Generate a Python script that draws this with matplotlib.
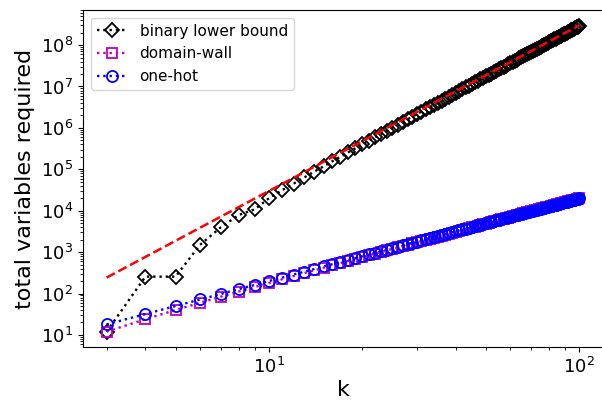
import matplotlib
matplotlib.use("Agg")
import matplotlib.pyplot as plt

k = list(range(3, 101))

binary_lower_bound = [
    12, 256, 256, 1500, 4000, 7900, 10800, 20000, 31000, 44900,
    63700, 87800, 118000, 156000, 201000, 257000, 322000, 400000, 491000, 596000,
    718000, 857000, 1.02e6, 1.20e6, 1.40e6, 1.62e6, 1.88e6, 2.16e6, 2.47e6, 2.82e6,
    3.20e6, 3.62e6, 4.07e6, 4.57e6, 5.12e6, 5.71e6, 6.35e6, 7.04e6, 7.79e6, 8.59e6,
    9.46e6, 1.04e7, 1.14e7, 1.25e7, 1.36e7, 1.48e7, 1.61e7, 1.75e7, 1.90e7, 2.05e7,
    2.22e7, 2.39e7, 2.58e7, 2.77e7, 2.98e7, 3.20e7, 3.43e7, 3.67e7, 3.93e7, 4.19e7,
    4.48e7, 4.77e7, 5.08e7, 5.40e7, 5.74e7, 6.10e7, 6.47e7, 6.86e7, 7.27e7, 7.69e7,
    8.13e7, 8.59e7, 9.07e7, 9.57e7, 1.01e8, 1.06e8, 1.12e8, 1.18e8, 1.24e8, 1.30e8,
    1.37e8, 1.43e8, 1.50e8, 1.58e8, 1.65e8, 1.73e8, 1.81e8, 1.90e8, 1.98e8, 2.07e8,
    2.16e8, 2.26e8, 2.36e8, 2.46e8, 2.56e8, 2.67e8, 2.78e8, 2.90e8,
]

domain_wall = [
    12, 24, 40, 60, 84, 112, 144, 180, 220, 264,
    312, 364, 420, 480, 544, 612, 684, 760, 840, 924,
    1012, 1104, 1200, 1300, 1404, 1512, 1624, 1740, 1860, 1984,
    2112, 2244, 2380, 2520, 2664, 2812, 2964, 3120, 3280, 3444,
    3612, 3784, 3960, 4140, 4324, 4512, 4704, 4900, 5100, 5304,
    5512, 5724, 5940, 6160, 6384, 6612, 6844, 7080, 7320, 7564,
    7812, 8064, 8320, 8580, 8844, 9112, 9384, 9660, 9940, 10224,
    10512, 10804, 11100, 11400, 11704, 12012, 12324, 12640, 12960, 13284,
    13612, 13944, 14280, 14620, 14964, 15312, 15664, 16020, 16380, 16744,
    17112, 17484, 17860, 18240, 18624, 19012, 19404, 19800,
]

one_hot = [
    18, 32, 50, 72, 98, 128, 162, 200, 242, 288,
    338, 392, 450, 512, 578, 648, 722, 800, 882, 968,
    1058, 1152, 1250, 1352, 1458, 1568, 1682, 1800, 1922, 2048,
    2178, 2312, 2450, 2592, 2738, 2888, 3042, 3200, 3362, 3528,
    3698, 3872, 4050, 4232, 4418, 4608, 4802, 5000, 5202, 5408,
    5618, 5832, 6050, 6272, 6498, 6728, 6962, 7200, 7442, 7688,
    7938, 8192, 8450, 8712, 8978, 9248, 9522, 9800, 10082, 10368,
    10658, 10952, 11250, 11552, 11858, 12168, 12482, 12800, 13122, 13448,
    13778, 14112, 14450, 14792, 15138, 15488, 15842, 16200, 16562, 16928,
    17298, 17672, 18050, 18432, 18818, 19208, 19602, 20000,
]

asym_k = [3, 100]
asym_vals = [243, 3.0e8]

labels = ["binary lower bound", "domain-wall", "one-hot"]
x_major = [10, 100]
y_major = [1e1, 1e2, 1e3, 1e4, 1e5, 1e6, 1e7, 1e8]

fig = plt.figure(figsize=(6.02, 4.03), dpi=100)
ax = fig.add_axes([83 / 602, 56 / 403, 520 / 602, 337 / 403])

ax.plot(k, binary_lower_bound, ':', color='black', marker='D', markersize=7,
        fillstyle='none', markeredgewidth=1.3, linewidth=1.7, label=labels[0])
ax.plot(k, domain_wall, ':', color='m', marker='s', markersize=7,
        fillstyle='none', markeredgewidth=1.3, linewidth=1.7, label=labels[1])
ax.plot(k, one_hot, ':', color='blue', marker='o', markersize=8,
        fillstyle='none', markeredgewidth=1.3, linewidth=1.7, label=labels[2])
ax.plot(asym_k, asym_vals, '--', color='red', linewidth=1.8)

ax.set_xscale('log')
ax.set_yscale('log')
xl = ax.get_xlim()
yl = ax.get_ylim()
ax.set_xticks(x_major)
ax.set_yticks(y_major)
ax.set_xlim(xl)
ax.set_ylim(yl)
ax.set_xlabel('k', fontsize=16, labelpad=2)
ax.set_ylabel('total variables required', fontsize=16, labelpad=4)
ax.tick_params(labelsize=13)
ax.legend(loc='upper left', fontsize=11)

fig.savefig('out.png', dpi=100)
